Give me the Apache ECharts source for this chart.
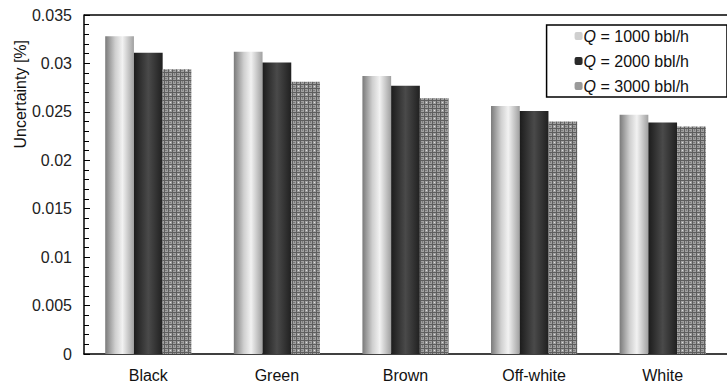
<!DOCTYPE html>
<html><head><meta charset="utf-8">
<script src="https://cdn.jsdelivr.net/npm/echarts@6/dist/echarts.min.js"></script>
<style>html,body{margin:0;padding:0;background:#fff}#c{width:727px;height:385px}</style>
</head><body><div id="c"></div>
<script>
const categories = ['Black', 'Green', 'Brown', 'Off-white', 'White'];
const q1000 = [0.0328, 0.0312, 0.0287, 0.0256, 0.0247];
const q2000 = [0.0311, 0.0301, 0.0277, 0.0251, 0.0239];
const q3000 = [0.0294, 0.0281, 0.0264, 0.0240, 0.0235];
const seriesNames = ['Q = 1000 bbl/h', 'Q = 2000 bbl/h', 'Q = 3000 bbl/h'];
const yTicks = [0, 0.005, 0.01, 0.015, 0.02, 0.025, 0.03, 0.035];

function makePattern() {
  const c = document.createElement('canvas');
  c.width = 8; c.height = 8;
  const g = c.getContext('2d');
  g.fillStyle = '#a0a0a0'; g.fillRect(0, 0, 8, 8);
  g.fillStyle = '#5e5e5e';
  g.fillRect(0, 0, 8, 1); g.fillRect(0, 4, 8, 1);
  g.fillRect(0, 0, 1, 8); g.fillRect(4, 0, 1, 8);
  g.fillStyle = '#dcdcdc';
  g.fillRect(2, 2, 1, 1); g.fillRect(6, 6, 1, 1); g.fillRect(6, 2, 1, 1); g.fillRect(2, 6, 1, 1);
  g.fillStyle = '#7c7c7c';
  g.fillRect(1, 2, 2, 1); g.fillRect(5, 6, 2, 1); g.fillRect(6, 1, 1, 2);
  return c;
}
const lightGrad = {type:'linear', x:0, y:0, x2:1, y2:0, colorStops:[
  {offset:0, color:'#7a7a7a'}, {offset:0.35, color:'#cfcfcf'}, {offset:0.6, color:'#f2f2f2'}, {offset:1, color:'#a0a0a0'}]};
const darkGrad = {type:'linear', x:0, y:0, x2:1, y2:0, colorStops:[
  {offset:0, color:'#1c1c1c'}, {offset:0.5, color:'#4a4a4a'}, {offset:1, color:'#202020'}]};
const patt = {image: makePattern(), repeat: 'repeat'};

const chart = echarts.init(document.getElementById('c'), null, {renderer: 'svg'});
const font = 'Liberation Sans, Arial, sans-serif';
chart.setOption({
  animation: false,
  grid: {left: 84, right: -10, top: 15, bottom: 31, containLabel: false},
  legend: {
    top: 25, right: 0, orient: 'vertical', itemWidth: 8, itemHeight: 8, itemGap: 9,
    borderColor: '#000', borderWidth: 1.5, padding: [3, 38, 3, 28],
    textStyle: {fontFamily: font, fontSize: 16, color: '#111', padding:[0,0,0,-4],
      rich: {q: {fontStyle: 'italic', fontFamily: font, fontSize: 16, color:'#111'}, t:{fontFamily: font, fontSize: 16, color:'#111'}}},
    formatter: function(n){ return '{q|Q}{t|' + n.slice(1) + '}'; },
    data: [
      {name: seriesNames[0], itemStyle: {color: '#cfcfcf'}},
      {name: seriesNames[1], itemStyle: {color: '#2a2a2a'}},
      {name: seriesNames[2], itemStyle: {color: '#9a9a9a'}}
    ]
  },
  xAxis: {
    type: 'category', data: categories,
    axisLine: {lineStyle: {color: '#000', width: 1.5}},
    axisTick: {show: false},
    axisLabel: {fontFamily: font, fontSize: 16, color: '#111', margin: 13}
  },
  yAxis: {
    type: 'value', min: 0, max: 0.035, interval: 0.005,
    name: 'Uncertainty [%]', nameLocation: 'end', nameRotate: 90, nameGap: 0,
    nameTextStyle: {fontFamily: font, fontSize: 16, color: '#111', align: 'right', verticalAlign: 'bottom', padding: [0, 25, 56, 0]},
    axisLine: {show: true, lineStyle: {color: '#000', width: 1.5}},
    axisTick: {show: true, inside: true, length: 6, lineStyle: {color: '#000'}},
    minorTick: {show: true, splitNumber: 5, length: 5, lineStyle: {color: '#000'}},
    splitLine: {show: false},
    axisLabel: {fontFamily: font, fontSize: 16, color: '#222', margin: 12,
      formatter: function(v){ const i = yTicks.findIndex(t => Math.abs(t - v) < 1e-9); return i >= 0 ? String(yTicks[i]) : ''; }}
  },
  graphic: [{type: 'line', shape: {x1: 84, y1: 15, x2: 727, y2: 15}, style: {stroke: '#000', lineWidth: 1.5}}],
  series: [
    {name: seriesNames[0], type: 'bar', data: q1000, barGap: '0%', barCategoryGap: '33%', itemStyle: {color: lightGrad}},
    {name: seriesNames[1], type: 'bar', data: q2000, itemStyle: {color: darkGrad}},
    {name: seriesNames[2], type: 'bar', data: q3000, itemStyle: {color: patt}}
  ]
});
</script></body></html>
